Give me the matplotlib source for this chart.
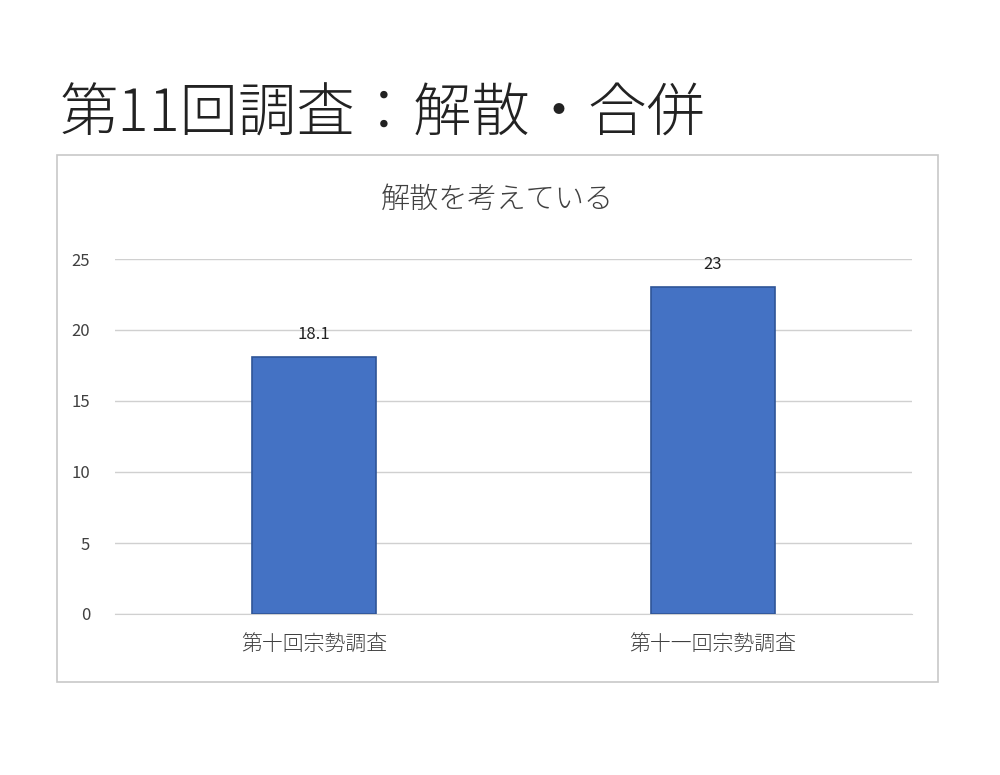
import matplotlib.pyplot as plt
from matplotlib.patches import Rectangle

plt.rcParams['font.family'] = ['Noto Sans CJK JP', 'DejaVu Sans']

categories = ['第十回宗勢調査', '第十一回宗勢調査']
values = [18.1, 23]
value_labels = ['18.1', '23']
yticks = [0, 5, 10, 15, 20, 25]

fig = plt.figure(figsize=(10, 7.75), dpi=100)

# outer chart box
fig.patches.append(Rectangle((57 / 1000, 1 - 682 / 775), 881 / 1000, 527 / 775,
                             transform=fig.transFigure, fill=False,
                             edgecolor='#c8c8c8', linewidth=1.2))

fig.text(60 / 1000, 1 - 132 / 775, '第11回調査：解散・合併', fontsize=42,
         color='#222222', va='baseline', ha='left', fontweight='light')
fig.text(497 / 1000, 1 - 200 / 775, '解散を考えている', fontsize=21,
         color='#404040', va='center', ha='center', fontweight='light')

ax = fig.add_axes([0.115, 1 - 614 / 775, 0.797, 355 / 775])
x = range(len(categories))
ax.bar(x, values, width=0.31, color='#4472C4', edgecolor='#2F5597', linewidth=1.2, zorder=3)
for xi, v, lab in zip(x, values, value_labels):
    ax.text(xi, v + 1.0, lab, ha='center', va='bottom', fontsize=12, color='#222222')

ax.set_xlim(-0.5, 1.5)
ax.set_ylim(0, 25)
ax.set_yticks(yticks)
ax.set_xticks(list(x))
ax.set_xticklabels(categories, fontsize=15, color='#404040', fontweight='light')
ax.tick_params(axis='y', labelsize=12, labelcolor='#404040', length=0, pad=18)
ax.tick_params(axis='x', length=0, pad=14)
ax.grid(axis='y', color='#d0d0d0', linewidth=1, zorder=0)
for s in ['top', 'right', 'left']:
    ax.spines[s].set_visible(False)
ax.spines['bottom'].set_color('#d0d0d0')

fig.savefig('out.png', dpi=100)
